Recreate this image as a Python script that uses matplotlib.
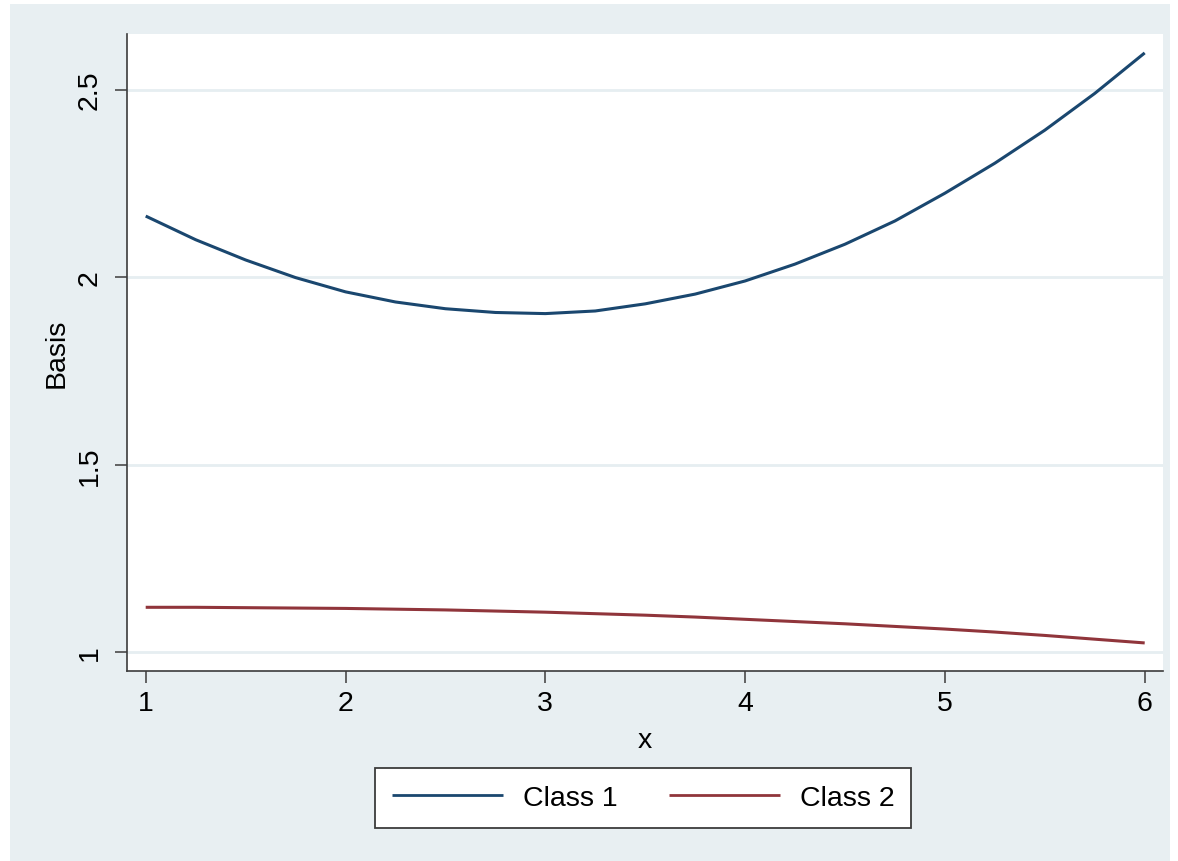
import matplotlib
matplotlib.use("Agg")
import matplotlib.pyplot as plt
from matplotlib.patches import Rectangle

plt.rcParams['font.family'] = ['Liberation Sans', 'DejaVu Sans']

x_vals = [1.0, 1.25, 1.5, 1.75, 2.0, 2.25, 2.5, 2.75, 3.0, 3.25, 3.5,
          3.75, 4.0, 4.25, 4.5, 4.75, 5.0, 5.25, 5.5, 5.75, 6.0]
class1 = [2.163, 2.100, 2.046, 1.999, 1.961, 1.934, 1.916, 1.906, 1.903, 1.910, 1.929,
          1.955, 1.990, 2.035, 2.088, 2.150, 2.224, 2.304, 2.392, 2.490, 2.598]
class2 = [1.120, 1.120, 1.119, 1.118, 1.117, 1.115, 1.113, 1.110, 1.107, 1.103, 1.099,
          1.094, 1.088, 1.082, 1.076, 1.069, 1.062, 1.054, 1.045, 1.035, 1.025]
series_labels = ["Class 1", "Class 2"]
x_ticks = [1, 2, 3, 4, 5, 6]
y_ticks = [1, 1.5, 2, 2.5]
y_ticklabels = ["1", "1.5", "2", "2.5"]

W, H = 1178, 862
fig = plt.figure(figsize=(W / 100, H / 100), dpi=100)
fig.patch.set_facecolor('white')
bg = '#e8eff2'
fig.patches.append(Rectangle((10 / W, 0), (1170 - 10) / W, (H - 5) / H,
                             transform=fig.transFigure, facecolor=bg,
                             edgecolor='none', zorder=-10))

left, right, top, bottom = 127, 1163, 34.5, 672
ax = fig.add_axes([left / W, 1 - bottom / H, (right - left) / W, (bottom - top) / H])
ax.set_zorder(5)
ax.set_facecolor('white')

c1, c2 = '#1a476f', '#90353b'
l1, = ax.plot(x_vals, class1, color=c1, lw=2.2, solid_capstyle='butt', zorder=3)
l2, = ax.plot(x_vals, class2, color=c2, lw=2.2, solid_capstyle='butt', zorder=3)

x0 = 1 - 18.7 / 199.8
x1 = 6 + 18.3 / 199.8
ax.set_xlim(x0, x1)
ppu = 375.3
y_top = 2.5 + (90.7 - top) / ppu
y_bot = 1 - (bottom - 653.3) / ppu
ax.set_ylim(y_bot, y_top)

ax.set_xticks(x_ticks)
ax.set_yticks(y_ticks)
ax.set_yticklabels(y_ticklabels, rotation=90, va='center')
for sp in ['top', 'right']:
    ax.spines[sp].set_visible(False)
for sp in ['left', 'bottom']:
    ax.spines[sp].set_color('#3c3c3c')
    ax.spines[sp].set_linewidth(1.2)
ax.tick_params(axis='both', direction='out', length=8.5, width=1.1,
               color='#3c3c3c', labelsize=20.5, labelcolor='black')
ax.tick_params(axis='x', pad=5)
ax.tick_params(axis='y', pad=9)
ax.grid(axis='y', color='#e6eef1', lw=2.0, zorder=1)
ax.set_axisbelow(True)

ax.set_xlabel('x', fontsize=20.5, labelpad=8)
ax.set_ylabel('Basis', fontsize=20.5, labelpad=5)

leg = fig.legend([l1, l2], series_labels, loc='center',
                 bbox_to_anchor=(643 / W, 1 - 799 / H), ncol=2,
                 fontsize=20.5, frameon=True, fancybox=False, framealpha=1,
                 handlelength=3.9, handletextpad=0.7, columnspacing=1.8,
                 borderpad=0.6, borderaxespad=0)
leg.set_zorder(6)
leg.get_frame().set_edgecolor('#3c3c3c')
leg.get_frame().set_linewidth(1.3)
leg.get_frame().set_facecolor('white')
for h in leg.get_lines():
    h.set_linewidth(2.0)

fig.savefig('out.png', dpi=100, facecolor='white')
